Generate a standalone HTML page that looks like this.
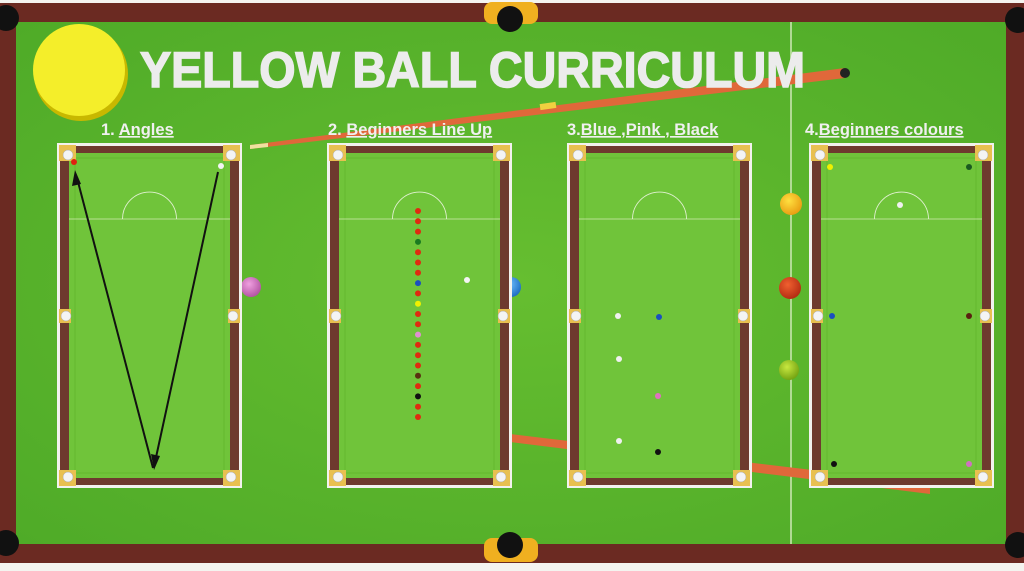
<!DOCTYPE html>
<html><head><meta charset="utf-8"><style>
html,body{margin:0;padding:0;width:1024px;height:571px;overflow:hidden;background:#f4f4f0}
svg{display:block}
</style></head><body>
<svg width="1024" height="571" viewBox="0 0 1024 571" xmlns="http://www.w3.org/2000/svg">
<defs>
<radialGradient id="felt" cx="0.5" cy="0.5" r="0.7"><stop offset="0" stop-color="#66be30"/><stop offset="1" stop-color="#4fab28"/></radialGradient>
<radialGradient id="yb" cx="0.4" cy="0.35" r="0.7"><stop offset="0" stop-color="#ffe040"/><stop offset="1" stop-color="#e89a10"/></radialGradient>
<radialGradient id="rb" cx="0.4" cy="0.35" r="0.7"><stop offset="0" stop-color="#f06030"/><stop offset="1" stop-color="#b02a10"/></radialGradient>
<radialGradient id="gb" cx="0.4" cy="0.35" r="0.7"><stop offset="0" stop-color="#c8e840"/><stop offset="1" stop-color="#70a010"/></radialGradient>
<radialGradient id="pb" cx="0.4" cy="0.35" r="0.7"><stop offset="0" stop-color="#f0a0e0"/><stop offset="1" stop-color="#b050a0"/></radialGradient>
<radialGradient id="bb" cx="0.4" cy="0.35" r="0.7"><stop offset="0" stop-color="#70c0ff"/><stop offset="1" stop-color="#1a6ac0"/></radialGradient>
<g id="tbl">
<rect x="0" y="0" width="185" height="345" fill="#f2f2ee"/>
<rect x="3" y="3" width="179" height="339" fill="#6e3a2e"/>
<rect x="12" y="10" width="161" height="325" fill="#70c43a"/>
<rect x="18" y="15" width="149" height="315" fill="none" stroke="#62b42e" stroke-width="0.8"/>
<line x1="12" y1="76" x2="173" y2="76" stroke="#cfe8b0" stroke-width="0.8"/>
<path d="M65.5 76 A27 27 0 0 1 119.5 76" fill="none" stroke="#e0f0d0" stroke-width="0.9"/>
<rect x="2" y="2" width="17" height="16" fill="#e8c050"/>
<rect x="166" y="2" width="17" height="16" fill="#e8c050"/>
<rect x="2" y="327" width="17" height="16" fill="#e8c050"/>
<rect x="166" y="327" width="17" height="16" fill="#e8c050"/>
<rect x="2" y="166" width="12" height="14" fill="#e8c050"/>
<rect x="171" y="166" width="12" height="14" fill="#e8c050"/>
<g fill="#f4f4f4" stroke="#aaa" stroke-width="0.5">
<circle cx="11" cy="12" r="5"/><circle cx="174" cy="12" r="5"/>
<circle cx="11" cy="334" r="5"/><circle cx="174" cy="334" r="5"/>
<circle cx="9" cy="173" r="5"/><circle cx="176" cy="173" r="5"/>
</g>
</g>
</defs>
<rect x="0" y="3" width="1024" height="560" fill="#6b2a22"/>
<rect x="16" y="22" width="990" height="522" fill="url(#felt)"/>
<line x1="791" y1="22" x2="791" y2="544" stroke="#cfe8b8" stroke-width="1.5"/>
<rect x="484" y="2" width="54" height="22" rx="8" fill="#f0b020"/>
<rect x="484" y="538" width="54" height="24" rx="8" fill="#f0b020"/>
<circle cx="510" cy="19" r="13" fill="#111"/>
<circle cx="510" cy="545" r="13" fill="#111"/>
<circle cx="6" cy="18" r="13" fill="#111"/>
<circle cx="1018" cy="20" r="13" fill="#111"/>
<circle cx="6" cy="543" r="13" fill="#111"/>
<circle cx="1018" cy="545" r="13" fill="#111"/>
<polygon points="250,145 250,149 845,78 845,68" fill="#e0683a"/>
<polygon points="250,145 250,149 268,147 268,143" fill="#f0e0a0"/>
<rect x="540" y="103" width="16" height="6" fill="#f0d040" transform="rotate(-8 548 106)"/>
<circle cx="845" cy="73" r="5" fill="#222"/>
<polygon points="510,434 510,442 930,494 930,484" fill="#e0683a"/>
<circle cx="81" cy="74" r="47" fill="#c8b800"/>
<circle cx="79" cy="70" r="46" fill="#f4ee2a"/>
<text x="140" y="87" font-family="Liberation Sans, sans-serif" font-weight="bold" font-size="50" fill="#ececec" stroke="#ececec" stroke-width="1.5" textLength="665" lengthAdjust="spacingAndGlyphs">YELLOW BALL CURRICULUM</text>
<circle cx="251" cy="287" r="10" fill="url(#pb)"/>
<circle cx="511" cy="287" r="10" fill="url(#bb)"/>
<circle cx="791" cy="204" r="11" fill="url(#yb)"/>
<circle cx="790" cy="288" r="11" fill="url(#rb)"/>
<circle cx="789" cy="370" r="10" fill="url(#gb)"/>
<use href="#tbl" x="57" y="143"/>
<use href="#tbl" x="327" y="143"/>
<use href="#tbl" x="567" y="143"/>
<use href="#tbl" x="809" y="143"/>
<g font-family="Liberation Sans, sans-serif" font-weight="bold" font-size="16.5" fill="#f0f0f0">
<text x="101" y="135">1. <tspan text-decoration="underline">Angles </tspan></text>
<text x="328" y="135">2. <tspan text-decoration="underline">Beginners Line Up</tspan></text>
<text x="567" y="135">3.<tspan text-decoration="underline">Blue ,Pink , Black</tspan></text>
<text x="805" y="135">4.<tspan text-decoration="underline">Beginners colours</tspan></text>
</g>
<circle cx="74" cy="162" r="3" fill="#e02010"/>
<circle cx="221" cy="166" r="3" fill="#f4f4f4"/>
<g stroke="#111" stroke-width="2" fill="none">
<line x1="153" y1="468" x2="77" y2="178"/>
<line x1="218" y1="172" x2="155" y2="462"/>
</g>
<polygon points="75,170 72,186 81,184" fill="#111"/>
<polygon points="154,470 151,454 160,456" fill="#111"/>
<g>
<circle cx="418" cy="211" r="3" fill="#e02a10"/>
<circle cx="418" cy="221.3" r="3" fill="#e02a10"/>
<circle cx="418" cy="231.6" r="3" fill="#e02a10"/>
<circle cx="418" cy="241.9" r="3" fill="#1a7a20"/>
<circle cx="418" cy="252.2" r="3" fill="#e02a10"/>
<circle cx="418" cy="262.5" r="3" fill="#e02a10"/>
<circle cx="418" cy="272.8" r="3" fill="#e02a10"/>
<circle cx="418" cy="283.1" r="3" fill="#1a50c0"/>
<circle cx="418" cy="293.4" r="3" fill="#e02a10"/>
<circle cx="418" cy="303.7" r="3" fill="#f0f000"/>
<circle cx="418" cy="314" r="3" fill="#e02a10"/>
<circle cx="418" cy="324.3" r="3" fill="#e02a10"/>
<circle cx="418" cy="334.6" r="3" fill="#e090d0"/>
<circle cx="418" cy="344.9" r="3" fill="#e02a10"/>
<circle cx="418" cy="355.2" r="3" fill="#e02a10"/>
<circle cx="418" cy="365.5" r="3" fill="#e02a10"/>
<circle cx="418" cy="375.8" r="3" fill="#5a3010"/>
<circle cx="418" cy="386.1" r="3" fill="#e02a10"/>
<circle cx="418" cy="396.4" r="3" fill="#111"/>
<circle cx="418" cy="406.7" r="3" fill="#e02a10"/>
<circle cx="418" cy="417" r="3" fill="#e02a10"/>
<circle cx="467" cy="280" r="3" fill="#f4f4f4"/>
</g>
<circle cx="618" cy="316" r="3" fill="#f0f0f0"/>
<circle cx="619" cy="359" r="3" fill="#f0f0f0"/>
<circle cx="619" cy="441" r="3" fill="#f0f0f0"/>
<circle cx="659" cy="317" r="3" fill="#1a50c0"/>
<circle cx="658" cy="396" r="3" fill="#e070c0"/>
<circle cx="658" cy="452" r="3" fill="#111"/>
<circle cx="830" cy="167" r="3" fill="#f0f000"/>
<circle cx="969" cy="167" r="3" fill="#1a5a20"/>
<circle cx="900" cy="205" r="3" fill="#f0f0f0"/>
<circle cx="832" cy="316" r="3" fill="#1a50c0"/>
<circle cx="969" cy="316" r="3" fill="#5a2010"/>
<circle cx="834" cy="464" r="3" fill="#111"/>
<circle cx="969" cy="464" r="3" fill="#d070c0"/>
</svg>
</body></html>
